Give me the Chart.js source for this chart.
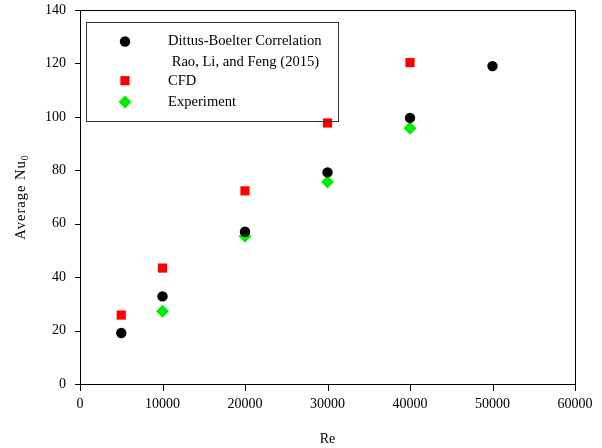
<!DOCTYPE html>
<html>
<head>
<meta charset="utf-8">
<script src="https://cdn.jsdelivr.net/npm/chart.js@4/dist/chart.umd.min.js"></script>
<style>
  html, body { margin: 0; padding: 0; background: #fff; }
  #wrap { width: 602px; height: 448px; }
</style>
</head>
<body>
<div id="wrap"><canvas id="c" width="602" height="448"></canvas></div>
<script>
// Reynolds numbers and average Nusselt numbers
const reDittus = [5000, 10000, 20000, 30000, 40000, 50000];
const nuDittus = [19.1, 32.8, 57.0, 79.2, 99.6, 119.0];
const reCfd = [5000, 10000, 20000, 30000, 40000];
const nuCfd = [25.8, 43.4, 72.3, 97.7, 120.3];
const reExp = [10000, 20000, 30000, 40000];
const nuExp = [27.2, 55.3, 75.6, 95.7];
const xTicks = [0, 10000, 20000, 30000, 40000, 50000, 60000];
const yTicks = [0, 20, 40, 60, 80, 100, 120, 140];
const yTitle = 'Average Nu';
const yTitleSub = '0';

const FONT = "'Liberation Serif', 'Times New Roman', serif";
const pts = (xs, ys) => xs.map((x, i) => ({ x, y: ys[i] }));

// Frame around the plot area plus a boxed legend in the upper left
const framePlugin = {
  id: 'frame',
  afterDraw(chart) {
    const { ctx, chartArea: a } = chart;
    ctx.save();
    ctx.strokeStyle = '#000';
    ctx.lineWidth = 1;
    ctx.strokeRect(Math.round(a.left) + 0.5, Math.round(a.top) + 0.5,
                   Math.round(a.right - a.left), Math.round(a.bottom - a.top));

    // legend box
    const bx = a.left + 6, by = a.top + 12, bw = 252, bh = 99;
    ctx.strokeStyle = '#333';
    ctx.strokeRect(Math.round(bx) + 0.5, Math.round(by) + 0.5, bw, bh);

    const rows = [
      { ds: 0, lines: ['Dittus-Boelter Correlation', ' Rao, Li, and Feng (2015)'], y: by + 19.5 },
      { ds: 1, lines: ['CFD'], y: by + 58.7 },
      { ds: 2, lines: ['Experiment'], y: by + 80 }
    ];
    ctx.font = '14.6px ' + FONT;
    ctx.fillStyle = '#000';
    ctx.textBaseline = 'middle';
    ctx.textAlign = 'left';
    const mx = bx + 39, tx = bx + 82;
    rows.forEach(r => {
      const d = chart.data.datasets[r.ds];
      ctx.fillStyle = d.backgroundColor;
      Chart.helpers.drawPoint(ctx, {
        pointStyle: d.pointStyle, radius: d.pointRadius, rotation: 0, borderWidth: 0
      }, mx, r.y);
      ctx.fillStyle = '#000';
      r.lines.forEach((t, i) => ctx.fillText(t, tx, r.y + i * 20.6));
    });

    // rotated y-axis title with subscript
    ctx.save();
    ctx.translate(20, (a.top + a.bottom) / 2);
    ctx.rotate(-Math.PI / 2);
    ctx.letterSpacing = '1px';
    ctx.font = '14.5px ' + FONT;
    ctx.textBaseline = 'alphabetic';
    const w1 = ctx.measureText(yTitle).width;
    ctx.font = '10px ' + FONT;
    const w2 = ctx.measureText(yTitleSub).width;
    const x0 = -(w1 + w2) / 2;
    ctx.font = '14.5px ' + FONT;
    ctx.fillText(yTitle, x0, 5);
    ctx.font = '10px ' + FONT;
    ctx.fillText(yTitleSub, x0 + w1, 8);
    ctx.restore();

    ctx.restore();
  }
};

new Chart(document.getElementById('c'), {
  type: 'scatter',
  data: {
    datasets: [
      { label: 'Dittus-Boelter Correlation Rao, Li, and Feng (2015)', data: pts(reDittus, nuDittus),
        pointStyle: 'circle', pointRadius: 5.2, backgroundColor: '#000', borderWidth: 0 },
      { label: 'CFD', data: pts(reCfd, nuCfd),
        pointStyle: 'rect', pointRadius: 6.5, backgroundColor: '#ff0000', borderWidth: 0 },
      { label: 'Experiment', data: pts(reExp, nuExp),
        pointStyle: 'rectRot', pointRadius: 6.5, backgroundColor: '#00ee00', borderWidth: 0 }
    ]
  },
  options: {
    responsive: false,
    animation: false,
    layout: { padding: { left: 0, top: 10, right: 27, bottom: 0 } },
    plugins: { legend: { display: false }, tooltip: { enabled: false } },
    scales: {
      x: {
        type: 'linear', min: 0, max: 60000,
        afterBuildTicks: s => { s.ticks = xTicks.map(v => ({ value: v })); },
        afterFit: s => { s.height = 64; s.paddingLeft = 0; s.paddingRight = 0; },
        grid: { display: false, drawOnChartArea: false },
        border: { color: '#000', width: 1 },
        ticks: { color: '#000', font: { family: FONT, size: 14 }, padding: 4, maxRotation: 0,
                 callback: v => String(v) },
        title: { display: true, text: 'Re', color: '#000', font: { family: FONT, size: 14 },
                 padding: { top: 14, bottom: 0 } }
      },
      y: {
        type: 'linear', min: 0, max: 140,
        afterBuildTicks: s => { s.ticks = yTicks.map(v => ({ value: v })); },
        afterFit: s => { s.width = 80; s.paddingTop = 0; s.paddingBottom = 0; },
        grid: { display: false },
        border: { color: '#000', width: 1 },
        ticks: { color: '#000', font: { family: FONT, size: 14 }, padding: 6 },
        title: { display: false }
      }
    }
  },
  plugins: [framePlugin, {
    id: 'outerTicks',
    afterDraw(chart) {
      const { ctx, chartArea: a, scales } = chart;
      ctx.save();
      ctx.strokeStyle = '#000';
      ctx.lineWidth = 1;
      ctx.beginPath();
      xTicks.forEach(v => {
        const x = Math.round(scales.x.getPixelForValue(v)) + 0.5;
        ctx.moveTo(x, Math.round(a.bottom)); ctx.lineTo(x, Math.round(a.bottom) + 7);
      });
      yTicks.forEach(v => {
        const y = Math.round(scales.y.getPixelForValue(v)) + 0.5;
        ctx.moveTo(Math.round(a.left), y); ctx.lineTo(Math.round(a.left) - 5, y);
      });
      ctx.stroke();
      ctx.restore();
    }
  }]
});
</script>
</body>
</html>
